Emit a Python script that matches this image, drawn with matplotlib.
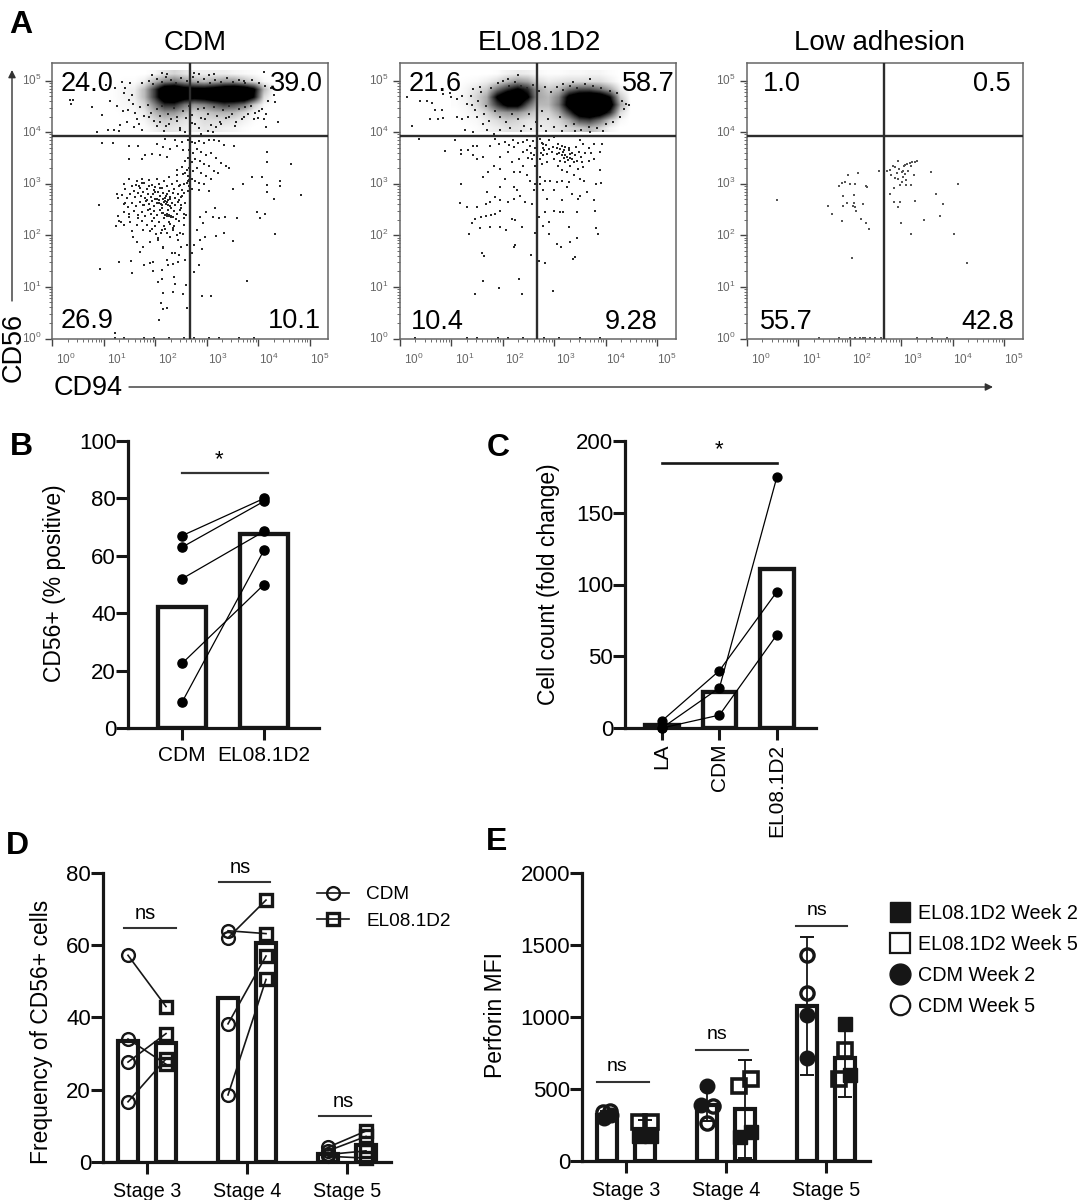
import numpy as np
import matplotlib
matplotlib.use('Agg')
import matplotlib.pyplot as plt
from matplotlib.lines import Line2D

plt.rcParams['font.family'] = ['Liberation Sans', 'DejaVu Sans']
plt.rcParams['mathtext.default'] = 'regular'

W, H = 1078, 1200
INK = '#161616'

# Panel A: values are log10 of the flow channels
cdm_grid_x = [.92, 4.40]
el_grid_x = [1.0, 4.6]
grid_y = [4.0, 5.2]
cdm_density = [
    [0, 0, 0, 0, 0, .02, .08, .12, .08, .05, .05, .05, .05, .03, .02, .01, 0, 0],
    [0, 0, .01, .01, .05, .2, .35, .4, .3, .25, .2, .25, .3, .3, .2, .1, .02, 0],
    [0, .01, .03, .05, .2, .55, .95, 1, .85, .8, .8, .85, .95, 1, .95, .75, .2, 0],
    [0, .01, .03, .05, .2, .55, .95, 1, .85, .8, .85, .95, 1, 1, 1, .7, .1, 0],
    [0, .01, .02, .03, .12, .35, .6, .6, .4, .3, .35, .45, .55, .5, .4, .15, .02, 0],
    [0, 0, .01, .02, .06, .2, .3, .3, .2, .12, .15, .2, .22, .2, .12, .03, 0, 0],
    [0, 0, 0, 0, .03, .1, .15, .12, .08, .06, .1, .1, .1, .08, .04, .01, 0, 0],
    [0, 0, 0, 0, .01, .04, .08, .07, .05, .04, .07, .06, .04, .03, .01, 0, 0, 0],
]
el_density = [
    [0, 0, 0, 0, .01, .04, .06, .05, .02, .01, .01, .02, .02, .03, .03, .01, 0, 0],
    [0, .01, .02, .05, .1, .2, .3, .25, .1, .06, .08, .1, .1, .1, .1, .05, 0, 0],
    [0, .03, .08, .15, .4, .6, .75, .6, .25, .15, .2, .4, .5, .5, .4, .25, .05, 0],
    [.01, .04, .12, .25, .75, 1, 1, .75, .25, .2, .35, .8, .95, 1, .95, .7, .15, 0],
    [.01, .03, .1, .25, .55, .8, .8, .45, .2, .2, .4, .85, 1, 1, 1, .85, .25, 0],
    [0, .02, .05, .12, .25, .3, .3, .2, .12, .12, .25, .55, .9, 1, .9, .6, .1, 0],
    [0, .01, .02, .06, .1, .15, .12, .08, .08, .08, .12, .25, .5, .55, .4, .15, .02, 0],
    [0, 0, .01, .03, .05, .08, .08, .05, .04, .06, .08, .12, .15, .2, .12, .03, 0, 0],
]

# read against a slightly narrower decade, corrected where the panel is drawn
cdm_events = [
    (.40,4.62),(.47,4.62),(.43,4.55),(.85,4.48),(1.05,4.33),(1.17,4.05),(1.28,4.04),(1.38,4.02),(.95,4.00),(1.40,4.14),
    (1.20,4.60),(1.35,4.50),(1.46,4.40),(1.50,4.75),(1.55,4.20),(1.62,4.95),(1.30,4.85),(1.45,4.98),(1.70,4.10),(1.75,4.25),
    (1.68,4.55),(1.60,4.62),(1.12,4.92),(1.52,4.85),(1.65,4.72),(1.58,4.42),(1.72,4.38),(1.80,4.15),(1.85,4.05),
    (2.05,5.10),(2.25,5.14),(2.35,5.12),(2.9,5.15),(3.0,5.12),(3.2,5.10),(3.3,5.12),(3.9,5.0),(4.3,5.17),(4.38,4.6),
    (2.0,4.30),(2.15,4.12),(2.22,4.2),(2.3,4.02),(2.4,4.15),(2.55,4.22),(2.62,4.05),(2.72,4.0),(2.85,4.18),(3.0,4.08),
    (3.05,3.97),(3.12,4.25),(3.18,4.02),(3.28,4.00),(3.35,4.1),(3.45,4.15),(3.6,4.3),(3.75,4.2),(3.9,4.3),(4.1,4.25),
    (4.2,4.4),(4.3,4.25),(4.6,4.2),(4.35,4.1),
    (1.05,3.78),(1.27,3.78),(1.6,3.74),(1.78,3.73),(1.6,3.48),(1.85,3.48),(1.91,3.55),(2.05,3.58),(2.21,3.55),(2.35,3.52),
    (2.15,3.77),(2.28,3.71),(2.42,3.68),(2.55,3.74),(2.65,3.8),(2.32,3.87),(2.52,3.84),(2.68,3.65),(2.72,3.45),(2.65,3.32),
    (2.75,3.26),(2.55,3.26),(2.68,3.19),
    (2.78,3.85),(2.85,3.80),(2.92,3.78),(3.0,3.82),(3.1,3.78),(3.2,3.84),(3.3,3.85),(3.4,3.82),(3.5,3.75),(3.7,3.73),
    (2.8,3.65),(2.88,3.60),(2.95,3.68),(3.05,3.62),(3.15,3.55),(3.25,3.6),(3.35,3.5),(3.45,3.4),(3.55,3.35),(3.6,3.3),
    (2.78,3.5),(2.85,3.42),(2.92,3.48),(3.02,3.45),(3.1,3.38),(3.2,3.35),(3.3,3.25),(3.38,3.2),(2.8,3.3),(2.88,3.25),
    (2.96,3.3),(3.05,3.2),(3.15,3.15),(3.25,3.1),(2.78,3.15),(2.85,3.1),(2.92,3.05),(3.0,3.02),(3.1,3.0),(2.76,3.02),
    (2.8,2.95),(2.85,2.9),(2.78,2.85),(3.0,2.88),(3.2,2.85),(2.79,3.08),(2.80,3.07),(2.81,3.09),(2.78,3.06),
    (4.85,3.39),(4.36,3.61),(4.36,3.42),(4.06,3.13),(4.26,3.13),(4.63,3.06),(4.63,2.95),(4.36,2.97),(4.36,2.84),(3.89,3.0),
    (3.69,2.9),(5.05,2.79),(4.5,2.71),(4.16,2.45),(4.23,2.34),(4.33,2.42),(4.53,2.03),
    (3.32,2.52),(3.15,2.45),(3.28,2.35),(3.41,2.34),(3.52,2.35),(3.77,2.34),(3.02,2.35),(3.09,2.23),(2.95,2.1),(3.12,1.97),
    (3.34,1.98),(3.5,2.05),(3.68,1.89),(3.02,1.9),(2.89,1.81),(3.07,1.74),(2.85,1.65),(2.99,1.42),(2.9,1.29),(3.96,1.12),
    (3.07,.83),(3.25,.83),
    # lower left population
    (1.50,3.0),(1.52,2.9),(1.60,3.1),(1.65,2.95),(1.7,2.85),(1.75,3.05),(1.8,2.95),(1.85,3.1),(1.9,3.02),(1.95,2.9),
    (2.0,3.08),(2.05,2.98),(2.1,2.88),(2.15,3.1),(2.2,3.0),(2.25,2.92),(2.3,3.05),(2.35,2.95),(2.4,2.85),(2.45,3.0),
    (2.5,2.9),(2.55,3.05),(2.6,2.95),(2.65,2.88),(2.7,3.0),(1.35,2.8),(1.36,2.72),(1.45,2.78),(1.55,2.72),(1.62,2.8),
    (1.72,2.74),(1.78,2.82),(1.84,2.76),(1.88,2.84),(1.92,2.72),(1.97,2.8),(2.03,2.74),(2.08,2.8),(2.12,2.7),(2.18,2.84),
    (2.22,2.76),(2.27,2.82),(2.32,2.72),(2.36,2.8),(2.42,2.74),(2.47,2.82),(2.52,2.72),(2.58,2.8),(2.64,2.74),(2.7,2.82),
    (1.5,2.6),(1.58,2.55),(1.66,2.62),(1.74,2.56),(1.82,2.64),(1.88,2.58),(1.94,2.66),(2.0,2.6),(2.06,2.66),(2.1,2.56),
    (2.16,2.62),(2.2,2.68),(2.25,2.58),(2.3,2.64),(2.34,2.6),(2.38,2.68),(2.42,2.56),(2.46,2.62),(2.52,2.58),(2.58,2.65),
    (2.64,2.58),(2.72,2.62),(1.36,2.38),(1.42,2.25),(1.48,2.45),(1.6,2.42),(1.7,2.48),(1.78,2.4),(1.86,2.46),(1.92,2.38),
    (1.98,2.5),(2.04,2.42),(2.1,2.48),(2.16,2.4),(2.22,2.5),(2.28,2.44),(2.32,2.39),(2.35,2.38),(2.38,2.37),(2.41,2.37),
    (2.44,2.36),(2.5,2.48),(2.56,2.42),(2.62,2.5),(2.7,2.42),(1.5,2.2),(1.62,2.25),(1.75,2.2),(1.85,2.28),(1.95,2.2),
    (2.05,2.28),(2.12,2.18),(2.2,2.26),(2.3,2.18),(2.4,2.25),(2.5,2.18),(2.6,2.28),(2.7,2.2),(1.38,2.27),(1.32,2.18),
    (2.02,2.08),(2.14,2.02),(2.25,2.1),(2.36,2.05),(2.48,2.1),(2.62,2.05),
    # tail towards the axis
    (1.68,1.97),(1.76,1.87),(1.88,1.77),(1.81,1.68),(1.64,1.5),(1.38,1.48),(1.0,1.35),(1.89,1.42),(2.01,1.47),(2.08,1.48),
    (1.66,1.26),(2.08,1.31),(2.25,1.32),(2.38,1.42),(2.48,1.45),(2.58,1.48),(2.6,1.61),(2.52,1.65),(2.35,1.52),(2.28,1.77),
    (2.18,1.9),(2.42,1.97),(2.58,1.9),(2.68,2.03),(2.75,1.81),(2.72,1.52),(2.25,1.16),(2.18,1.1),(2.5,1.19),(2.52,1.06),
    (2.74,1.03),(2.28,.89),(2.47,.9),(2.67,.87),(2.23,.69),(2.28,.58),(2.35,.59),(2.2,.35),(2.75,.59),(1.31,.1),(.99,2.58),
    (1.3,.01),(1.5,.01),(1.9,.01),(2.1,.01),(2.4,.01),(2.7,.01),(2.9,.01),(3.2,.01),(3.4,.01),(3.8,.01),(4.1,.01),
]
# these two lists are already in true decades
cdm_blob_extra = [
    (1.62,2.98),(1.71,2.91),(1.83,2.68),(1.58,2.47),(1.67,2.33),(1.79,2.58),(1.9,2.51),(1.97,2.33),(2.03,2.71),(2.09,2.92),
    (2.13,2.53),(2.17,2.33),(2.21,2.77),(2.24,2.49),(2.28,2.7),(2.31,2.52),(2.14,2.44),(2.07,2.62),(1.99,2.83),(1.87,2.96),
    (1.75,3.02),(2.36,2.47),(2.41,2.31),(2.46,2.69),(2.5,2.53),(2.55,2.33),(2.35,2.15),(2.18,2.12),(1.93,2.13),(1.76,2.11),
    (1.55,2.09),(1.48,2.36),(1.42,2.63),(2.0,2.93),(2.26,3.13),(2.43,3.16),(2.58,3.2),(2.48,2.97),(2.6,2.4),(2.52,2.77),
    (2.28,2.22),(2.12,2.05),(2.42,2.0),(2.05,1.95),(1.9,1.88),(2.15,1.75),(2.32,1.65),(2.5,1.78),(2.22,2.41),(2.26,2.39),
    (2.3,2.37),(2.34,2.36),(2.2,2.6),(2.22,2.64),(2.24,2.58),(2.18,2.67),(2.16,2.7),(2.12,2.6),
]
cdm_band_extra = [
    (1.75,4.95),(1.88,5.0),(1.96,4.93),(2.04,5.03),(2.13,4.98),(2.2,5.06),(2.31,5.01),(2.4,4.96),(2.5,5.04),(2.62,4.99),
    (2.74,5.07),(2.83,4.97),(2.95,5.03),(3.06,4.96),(3.17,5.02),(3.28,4.98),(3.4,5.05),(3.52,4.97),(3.63,5.02),(3.75,4.96),
    (3.88,5.01),(4.02,4.95),(4.13,4.9),(4.25,4.85),(4.3,4.72),(4.33,4.58),(1.7,4.48),(1.78,4.32),(1.86,4.52),(1.92,4.38),
    (1.98,4.22),(2.03,4.45),(2.09,4.31),(2.14,4.5),(2.2,4.12),(2.25,4.36),(2.31,4.25),(2.37,4.47),(2.42,4.3),(2.48,4.08),
    (2.53,4.41),(2.59,4.27),(2.65,4.5),(2.71,4.33),(2.77,4.15),(2.83,4.44),(2.89,4.28),(2.95,4.46),(3.02,4.36),(3.08,4.14),
    (3.14,4.48),(3.2,4.32),(3.26,4.2),(3.32,4.42),(3.38,4.28),(3.44,4.5),(3.5,4.36),(3.56,4.12),(3.62,4.45),(3.68,4.25),
    (3.74,4.48),(3.8,4.35),(3.86,4.5),(3.93,4.38),(4.0,4.28),(4.08,4.45),(4.15,4.35),
]

el_events = [
    (.14,4.68),(.39,4.61),(.52,4.61),(.62,4.57),(.24,4.12),(.58,4.26),(.73,4.25),(.83,4.27),(.68,4.42),(.81,4.42),
    (.84,4.74),(.97,4.76),(1.0,4.68),(1.1,4.65),(1.2,4.71),(1.1,4.29),(1.2,4.26),(1.27,4.05),(1.33,4.29),(1.43,4.0),
    (1.43,4.84),(1.56,4.87),(1.82,3.97),(2.3,5.11),(2.11,5.03),(3.69,5.03),(3.36,4.98),(3.18,4.94),
    (.37,3.86),(1.07,3.84),(.88,3.63),(1.19,3.65),(1.19,3.58),(1.33,3.66),(1.43,3.74),(1.49,3.74),(1.43,3.55),(1.49,3.47),
    (1.62,3.52),(1.75,3.74),(1.85,3.87),(1.92,3.77),(2.05,3.81),(2.21,3.71),(2.4,3.81),(2.53,3.74),(2.11,3.61),(1.95,3.52),
    (1.82,3.35),(1.95,3.29),(1.72,3.23),(1.62,3.13),(2.18,3.42),(2.31,3.48),(2.4,3.61),(2.47,3.65),(2.56,3.48),(2.63,3.35),
    (2.4,3.35),(2.34,3.23),(2.47,3.16),(2.53,3.06),(2.63,3.0),(2.61,2.87),(2.21,3.23),(2.05,3.1),(1.19,3.0),(1.95,2.94),
    (1.7,2.84),(2.21,2.94),(2.27,2.87),(1.85,2.74),(1.75,2.65),(1.68,2.61),(1.17,2.63),(1.31,2.55),(1.49,2.55),(1.95,2.68),
    (2.11,2.65),(2.21,2.71),(2.34,2.77),(2.44,2.65),(2.56,2.61),(1.95,2.48),(1.85,2.42),(1.77,2.4),(1.68,2.37),(1.57,2.35),
    (1.46,2.31),(1.4,2.23),(1.56,2.14),(1.75,2.16),(1.95,2.16),(2.06,2.1),(1.35,2.02),(2.18,2.32),(2.37,2.16),(2.24,2.29),
    (1.59,1.66),(1.64,1.59),(2.21,1.77),(2.24,1.81),(2.55,1.61),(2.31,1.16),(1.62,1.11),(1.92,.97),(1.46,.87),(2.37,.87),
    (2.97,.92),(2.62,2.05),
    (2.73,3.87),(2.79,3.77),(2.89,3.84),(2.99,3.9),(3.08,3.77),(3.15,3.74),(3.21,3.71),(3.28,3.65),(3.51,3.84),(3.57,3.77),
    (3.77,3.77),(3.93,3.77),(3.9,3.61),(3.77,3.48),(3.67,3.45),(3.57,3.32),(3.9,3.26),(3.47,3.29),(3.34,3.48),(3.25,3.52),
    (3.15,3.55),(3.05,3.58),(2.95,3.61),(2.86,3.58),(2.79,3.55),(2.73,3.48),(2.76,3.39),(2.86,3.42),(2.99,3.48),(3.12,3.45),
    (3.21,3.42),(3.31,3.35),(3.08,3.35),(3.15,3.26),(3.25,3.23),(3.38,3.16),(3.51,3.1),(3.58,3.06),(3.82,3.0),(3.91,3.01),
    (2.73,3.13),(2.73,3.0),(2.82,3.06),(2.92,3.06),(3.05,3.03),(3.15,3.06),(3.28,3.03),(3.25,2.94),(2.79,2.87),(2.99,2.87),
    (2.86,2.71),(3.15,2.68),(3.34,2.81),(3.51,2.77),(3.64,2.84),(3.77,2.68),(3.47,2.71),(3.8,2.48),(3.44,2.45),(3.0,2.48),
    (3.12,2.45),(3.18,2.45),(2.71,2.35),(2.82,2.45),(2.89,2.26),(2.79,2.19),(3.28,2.16),(3.82,2.15),(3.86,2.03),(2.89,2.02),
    (3.45,1.95),(3.06,1.83),(3.14,1.77),(3.3,1.87),(3.41,1.58),(3.36,1.54),(2.82,1.46),(2.71,1.5),
    # thicker part right of the gate
    (3.1,3.6),(3.18,3.62),(3.22,3.56),(3.3,3.58),(3.35,3.6),(3.2,3.5),(3.26,3.46),(3.3,3.5),(3.12,3.68),(3.2,3.66),
    (3.28,3.7),(3.05,3.7),(2.98,3.72),(2.9,3.68),(2.8,3.66),(2.75,3.6),(2.78,3.7),(2.76,3.78),(2.85,3.75),(3.42,3.72),
    (3.4,3.55),(3.45,3.45),(3.38,3.42),(3.52,3.52),(3.6,3.6),(3.68,3.7),(3.72,3.6),(3.48,3.62),(3.55,3.42),(2.55,3.6),
    (2.62,3.7),(2.6,3.55),(2.5,3.5),(2.58,3.82),(2.3,3.78),(2.48,3.85),(2.2,3.85),(2.12,3.75),
    # halo round the two clusters
    (1.3,4.55),(1.38,4.7),(1.45,4.42),(1.52,4.6),(1.58,4.78),(1.63,4.35),(1.68,4.5),(1.74,4.22),(1.78,4.85),(1.84,4.4),
    (1.9,4.95),(1.95,4.3),(2.0,5.0),(2.06,4.2),(2.12,4.9),(2.18,4.35),(2.24,4.97),(2.3,4.25),(2.36,4.9),(2.42,4.12),
    (2.47,4.85),(2.52,4.35),(2.58,4.92),(2.64,4.2),(2.7,4.8),(2.76,4.4),(2.82,4.88),(2.88,4.25),(2.94,4.78),(3.0,4.1),
    (3.06,4.88),(3.12,4.3),(3.18,4.82),(3.24,4.12),(3.3,4.9),(3.38,4.15),(3.45,4.85),(3.52,4.05),(3.6,4.93),(3.68,4.1),
    (3.76,4.9),(3.84,4.08),(3.92,4.85),(4.0,4.15),(4.08,4.8),(4.15,4.2),(4.22,4.75),(4.28,4.3),(4.32,4.6),(4.36,4.45),
    (4.4,4.55),(4.46,4.52),(1.5,4.3),(1.4,4.52),(1.62,4.15),(1.7,4.05),(1.95,4.05),(2.15,4.08),(2.35,4.03),(2.55,4.07),
    (2.75,4.12),(2.85,4.03),(3.15,4.02),(3.4,4.02),(3.7,4.0),(3.95,4.02),
    (.3,.01),(1.3,.01),(1.5,.01),(1.9,.01),(2.1,.01),(2.4,.01),(2.8,.01),(3.1,.01),(3.5,.01),(3.9,.01),
]

la_events = [
    (.58,2.69),(1.58,2.56),(1.66,2.42),(1.79,2.96),(1.84,3.01),(1.9,3.04),(1.97,3.17),(2.16,3.21),(2.0,2.99),(2.1,2.99),
    (2.31,2.96),(2.34,2.93),(1.86,2.77),(2.08,2.79),(1.95,2.62),(1.86,2.56),(2.08,2.62),(2.06,2.57),(2.11,2.54),(2.13,2.48),
    (2.26,2.61),(1.84,2.27),(2.21,2.32),(2.31,2.24),(2.37,2.12),(2.05,1.56),(2.57,3.25),
    (2.73,3.24),(2.78,3.27),(2.88,3.32),(2.84,3.35),(2.94,3.44),(2.95,3.29),(2.81,3.17),(2.88,3.12),(2.94,3.1),(2.91,3.21),
    (3.01,3.22),(3.04,3.25),(3.05,3.34),(3.08,3.36),(3.12,3.38),(3.17,3.4),(3.21,3.43),(3.27,3.42),(3.31,3.45),(3.19,3.35),
    (3.14,3.24),(3.07,3.19),(3.04,3.14),(3.1,3.08),(3.01,3.03),(2.97,2.98),(3.1,2.98),(3.19,2.98),(3.25,3.17),(2.86,2.91),
    (2.79,2.81),(2.86,2.65),(2.97,2.65),(2.93,2.54),(2.99,2.23),(3.27,2.66),(3.19,2.02),(3.45,2.3),(3.59,3.23),(3.67,2.81),
    (3.82,2.61),(3.75,2.37),(4.11,3.0),(4.03,2.02),(4.28,1.47),(3.04,3.93),
    (1.4,.01),(1.8,.01),(2.0,.01),(2.1,.01),(2.2,.01),(2.25,.01),(2.3,.01),(2.4,.01),(2.5,.01),(2.6,.01),(3.3,.01),(3.6,.01),(3.9,.01),
]

cdm_pts = np.array(cdm_events) * [.966, 1] + [-.047, 0]
cdm_pts = np.vstack([cdm_pts, cdm_blob_extra, cdm_band_extra])

quadrants = {
    'CDM': ('24.0', '39.0', '26.9', '10.1'),
    'EL08.1D2': ('21.6', '58.7', '10.4', '9.28'),
    'Low adhesion': ('1.0', '0.5', '55.7', '42.8'),
}
gate_x, gate_y = 2.67, 3.93

# Panel B
b_labels = ['CDM', 'EL08.1D2']
b_bars = [42, 67.5]
b_cdm = [67, 63, 52, 22.5, 9]
b_el = [80, 79, 68.5, 50, 62]

# Panel C
c_labels = ['LA', 'CDM', 'EL08.1D2']
c_bars = [2, 25, 111]
c_donors = [[5, 40, 95], [0, 28, 175], [0, 9, 65]]

# Panel D
stages = ['Stage 3', 'Stage 4', 'Stage 5']
d_cdm_bars = [33.5, 45.5, 2]
d_el_bars = [33, 60.5, 4.5]
d_cdm = [[57.2, 34, 27.6, 16.6], [64, 62, 38.2, 18.5], [4, 3, 2, 1.5]]
d_el = [[43, 27, 35.5, 28.5], [63.2, 72.5, 57, 50.5], [8.5, 7, 3, 1]]
d_ns = [64.8, 77.5, 12.8]

# Panel E
e_cdm_bars = [320, 385, 1074]
e_el_bars = [220, 356, 710]
e_cdm_err = [25, 110, 480]
e_el_err = [60, 340, 270]
e_cdm_w2 = [[300, 320], [520, 386], [1015, 710]]
e_cdm_w5 = [[340, 345], [380, 260], [1430, 1165]]
e_el_w2 = [[170, 170], [200, 167], [950, 595]]
e_el_w5 = [[270, 270], [565, 518], [768, 565]]
# sideways scatter of the symbols inside a bar
e_cdm_w2_dx = [[-.03, .04], [0, -.06], [0, 0]]
e_cdm_w5_dx = [[-.04, .03], [.06, 0], [0, 0]]
e_el_w2_dx = [[-.06, .06], [.06, -.05], [0, .05]]
e_el_w5_dx = [[-.06, .06], [.06, -.06], [0, -.06]]
e_ns = [549, 769, 1632]

fig = plt.figure(figsize=(W / 100, H / 100), dpi=100)


def place(left, top, right, bottom):
    return fig.add_axes([left / W, 1 - bottom / H, (right - left) / W, (bottom - top) / H])


def label(x, y, s, **kw):
    kw.setdefault('ha', 'center')
    kw.setdefault('va', 'center')
    fig.text(x / W, 1 - y / H, s, **kw)


def arrow(x0, y0, x1, y1):
    fig.add_artist(plt.Annotation('', xy=(x1 / W, 1 - y1 / H), xytext=(x0 / W, 1 - y0 / H),
                                  xycoords='figure fraction', textcoords='figure fraction',
                                  arrowprops=dict(arrowstyle='-|>', color='#333333', lw=1.0,
                                                  mutation_scale=11, shrinkA=0, shrinkB=0)))


def flow_panel(box, title_x, title, events, density=None, grid_x=None, dot='#2a2a2a', size=1.0):
    ax = place(*box)
    if density is not None:
        ax.imshow(density, extent=grid_x + grid_y, aspect='auto', cmap='gray_r', vmin=0, vmax=.72,
                  interpolation='bilinear', zorder=1)
    ax.set_xlim(0, 5.365)
    ax.set_ylim(0, 5.34)
    pts = np.array(events)
    ax.scatter(pts[:, 0], pts[:, 1], s=size, c=dot, marker='s', linewidths=0, zorder=2)
    ax.axvline(gate_x, color='#2c2c2c', lw=1.7, zorder=3)
    ax.axhline(gate_y, color='#2c2c2c', lw=1.7, zorder=3)
    decades = np.arange(6)
    minors = [d + np.log10(m) for d in range(5) for m in range(2, 10)]
    minors = [m for m in minors if m < 5.34]
    ax.set_xticks(decades)
    ax.set_yticks(decades)
    ax.set_xticks(minors, minor=True)
    ax.set_yticks(minors, minor=True)
    ax.set_xticklabels([])
    ax.set_yticklabels([])
    ax.tick_params(which='major', length=5, width=1, color='#444444')
    ax.tick_params(which='minor', length=2.5, width=.6, color='#555555')
    for s in ax.spines.values():
        s.set_color('#666666')
        s.set_linewidth(1.1)
    for d in decades:
        shift = 13.8 - d * .8
        ax.annotate('$10^{%d}$' % d, (d, 0), xytext=(shift * .72, -15), textcoords='offset points',
                    ha='center', va='center', fontsize=8.5, color='#666666', annotation_clip=False)
        ax.annotate('$10^{%d}$' % d, (0, d), xytext=(-15, 0), textcoords='offset points',
                    ha='center', va='center', fontsize=8.5, color='#666666', annotation_clip=False)
    label(title_x, 43, title, fontsize=20)
    return quadrants[title]


# GraphPad look for the lower panels
def prism(ax, xlabel_rot=0):
    for side in ('top', 'right'):
        ax.spines[side].set_visible(False)
    for side in ('left', 'bottom'):
        ax.spines[side].set_linewidth(2.3)
        ax.spines[side].set_color(INK)
    ax.patch.set_alpha(0)
    ax.tick_params(axis='y', length=8.6, width=2.2, labelsize=16, pad=0, color=INK)
    ax.tick_params(axis='x', length=8.3, width=2.2, labelsize=15, pad=5, color=INK, rotation=xlabel_rot)


# A
t = flow_panel((52.4, 63, 328.3, 338.5), 195, 'CDM', cdm_pts, cdm_density, cdm_grid_x)
for (x, y, ha), s in zip([(61, 84, 'left'), (323, 84, 'right'), (61, 321, 'left'), (321, 321, 'right')], t):
    label(x, y, s, fontsize=19.5, ha=ha)
t = flow_panel((400, 63, 675.7, 338.5), 539, 'EL08.1D2', el_events, el_density, el_grid_x)
for (x, y, ha), s in zip([(409, 84, 'left'), (675, 84, 'right'), (411, 322, 'left'), (658, 322, 'right')], t):
    label(x, y, s, fontsize=19.5, ha=ha)
t = flow_panel((747, 63, 1022.7, 338.5), 879, 'Low adhesion', la_events, dot='#555555', size=.9)
for (x, y, ha), s in zip([(763, 84, 'left'), (1011, 84, 'right'), (760, 322, 'left'), (1014, 322, 'right')], t):
    label(x, y, s, fontsize=19.5, ha=ha)

arrow(12, 301, 12, 70)
arrow(129, 387, 993, 387)
label(14, 347, 'CD56', fontsize=19.5, rotation=90)
label(88, 388, 'CD94', fontsize=19.5)

for letter, x, y in [('A', 21, 25), ('B', 21, 447), ('C', 498, 448), ('D', 17, 846), ('E', 497, 842)]:
    label(x, y, letter, fontsize=23, fontweight='bold')

# B
ax = place(128, 441, 319, 728)
ax.bar([0, 1], b_bars, width=.593, facecolor='white', edgecolor=INK, linewidth=3.1, zorder=1)
for a, b in zip(b_cdm, b_el):
    ax.plot([0, 1], [a, b], '-o', color='black', lw=.9, ms=6.6, zorder=3, clip_on=False)
ax.plot([0, 1.05], [89, 89], color='#333333', lw=1.6)
ax.text(.445, 93.5, '*', fontsize=16, ha='center', va='center')
ax.set_xticks([0, 1], b_labels)
ax.set_yticks(range(0, 101, 20))
ax.set_xlim(-.659, 1.67)
ax.set_ylim(0, 100)
prism(ax)
label(55, 583, 'CD56+ (% positive)', fontsize=16.5, rotation=90)

# C
ax = place(625, 441, 816, 728)
ax.bar([0, 1, 2], c_bars, width=.578, facecolor='white', edgecolor=INK, linewidth=3.1, zorder=1)
for donor in c_donors:
    ax.plot([0, 1, 2], donor, '-o', color='black', lw=.9, ms=6.4, zorder=3, clip_on=False)
ax.plot([0, 2.01], [184.6, 184.6], color=INK, lw=1.9)
ax.text(.99, 194, '*', fontsize=16, ha='center', va='center')
ax.set_xticks([0, 1, 2], c_labels)
ax.set_yticks(range(0, 201, 50))
ax.set_xlim(-.643, 2.68)
ax.set_ylim(0, 200)
prism(ax, 90)
ax.tick_params(axis='x', pad=3)
label(549, 584, 'Cell count (fold change)', fontsize=16.5, rotation=90)

# D
ax = place(103, 873, 391, 1161.7)
x0 = np.arange(3)
off = .19
ax.bar(x0 - off, d_cdm_bars, width=.2, facecolor='white', edgecolor=INK, linewidth=3, zorder=1)
ax.bar(x0 + off, d_el_bars, width=.2, facecolor='white', edgecolor=INK, linewidth=3, zorder=1)
ns_d = [(-.23, .29, -.02), (-.28, .23, -.07), (-.28, .24, -.04)]
for i in range(3):
    for a, b in zip(d_cdm[i], d_el[i]):
        ax.plot([i - off, i + off], [a, b], color=INK, lw=1.2, zorder=2)
    ax.plot([i - off] * 4, d_cdm[i], 'o', mfc='none', mec=INK, mew=1.7, ms=9.2, zorder=3, clip_on=False)
    ax.plot([i + off] * 4, d_el[i], 's', mfc='none', mec=INK, mew=2.4, ms=8.4, zorder=3, clip_on=False)
    ax.plot([i + ns_d[i][0], i + ns_d[i][1]], [d_ns[i], d_ns[i]], color='#333333', lw=1.5)
    ax.text(i + ns_d[i][2], d_ns[i] + 4.0, 'ns', fontsize=14.5, ha='center', va='center')
ax.set_xticks(x0, stages)
ax.set_yticks(range(0, 81, 20))
ax.set_xlim(-.44, 2.44)
ax.set_ylim(0, 80)
prism(ax)
ax.tick_params(axis='x', labelsize=14.2, pad=6)
label(42, 1032, 'Frequency of CD56+ cells', fontsize=16.5, rotation=90)
d_handles = [
    Line2D([], [], color=INK, lw=1.2, marker='o', mfc='none', mec=INK, mew=1.7, ms=9.2),
    Line2D([], [], color=INK, lw=1.2, marker='s', mfc='none', mec=INK, mew=2.4, ms=8.4),
]
ax.legend(d_handles, ['CDM', 'EL08.1D2'], loc='upper left', bbox_to_anchor=(317 / W, 1 - 886 / H),
          bbox_transform=fig.transFigure, frameon=False, borderpad=0, borderaxespad=0, fontsize=13.7,
          handlelength=1.7, handletextpad=.9, labelspacing=.5)

# E
ax = place(582, 872.7, 870, 1160.7)
off = .188
ax.bar(x0 - off, e_cdm_bars, width=.2, facecolor='white', edgecolor=INK, linewidth=3, zorder=1)
ax.bar(x0 + off, e_el_bars, width=.2, facecolor='white', edgecolor=INK, linewidth=3, zorder=1)
ax.errorbar(x0 - off, e_cdm_bars, yerr=e_cdm_err, fmt='none', ecolor=INK, elinewidth=1.3, capsize=5, capthick=1.4, zorder=2)
ax.errorbar(x0 + off, e_el_bars, yerr=e_el_err, fmt='none', ecolor=INK, elinewidth=1.3, capsize=5, capthick=1.4, zorder=2)
ns_e = [(-.29, .23), (-.30, .22), (-.30, .21)]
for i in range(3):
    ax.plot(i + off + np.array(e_el_w2_dx[i]), e_el_w2[i], 's', color=INK, ms=10, zorder=3)
    ax.plot(i + off + np.array(e_el_w5_dx[i]), e_el_w5[i], 's', mfc='none', mec=INK, mew=2.6, ms=9.5, zorder=4)
    ax.plot(i - off + np.array(e_cdm_w2_dx[i]), e_cdm_w2[i], 'o', color=INK, ms=10.5, zorder=3)
    ax.plot(i - off + np.array(e_cdm_w5_dx[i]), e_cdm_w5[i], 'o', mfc='none', mec=INK, mew=2.4, ms=9.5, zorder=4)
    ax.plot([i + ns_e[i][0], i + ns_e[i][1]], [e_ns[i], e_ns[i]], color='#333333', lw=1.5)
    ax.text(i - .09, e_ns[i] + 108, 'ns', fontsize=14, ha='center', va='center')
ax.set_xticks(x0, stages)
ax.set_yticks(range(0, 2001, 500))
ax.set_xlim(-.44, 2.44)
ax.set_ylim(0, 2000)
prism(ax)
ax.tick_params(axis='x', labelsize=14.2, pad=6)
label(495, 1015, 'Perforin MFI', fontsize=16.5, rotation=90)
e_handles = [
    Line2D([], [], ls='', marker='s', color=INK, ms=15),
    Line2D([], [], ls='', marker='s', mfc='white', mec=INK, mew=1.6, ms=14),
    Line2D([], [], ls='', marker='o', color=INK, ms=15),
    Line2D([], [], ls='', marker='o', mfc='white', mec=INK, mew=1.6, ms=14),
]
ax.legend(e_handles, ['EL08.1D2 Week 2', 'EL08.1D2 Week 5', 'CDM Week 2', 'CDM Week 5'], loc='upper left',
          bbox_to_anchor=(889 / W, 1 - 904 / H), bbox_transform=fig.transFigure, frameon=False, borderpad=0,
          borderaxespad=0, fontsize=14.2, handlelength=1.1, handletextpad=.35, labelspacing=.6)

fig.savefig('out.png', dpi=100)
